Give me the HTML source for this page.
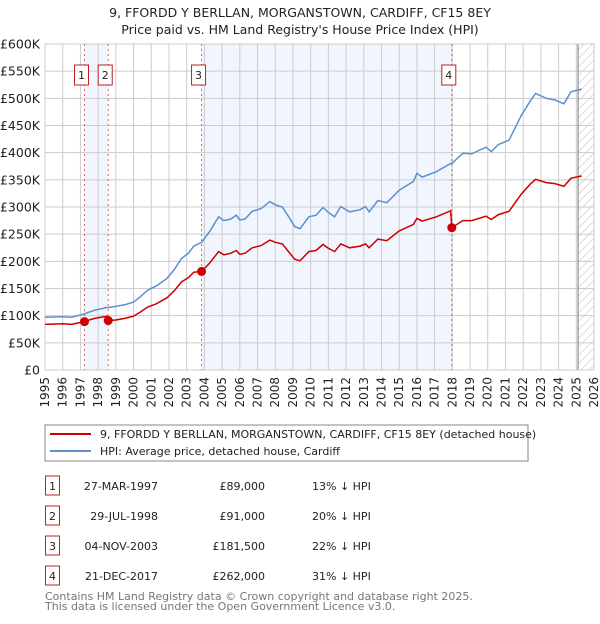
<!DOCTYPE html>
<html><head><meta charset="utf-8">
<style>
body{margin:0;background:#fff;font-family:"DejaVu Sans","Liberation Sans",sans-serif;}
svg text{font-family:"DejaVu Sans","Liberation Sans",sans-serif;}
</style></head>
<body>
<svg id="chart" width="600" height="620" viewBox="0 0 600 620" xmlns="http://www.w3.org/2000/svg">
<defs>
<pattern id="hatch" patternUnits="userSpaceOnUse" width="6" height="6" patternTransform="rotate(45)">
<line x1="0" y1="0" x2="0" y2="6" stroke="#bbb" stroke-width="1"/>
</pattern>
</defs>
<text x="300" y="17" text-anchor="middle" font-size="12.5" fill="#222">9, FFORDD Y BERLLAN, MORGANSTOWN, CARDIFF, CF15 8EY</text>
<text x="300" y="34" text-anchor="middle" font-size="12.5" fill="#222">Price paid vs. HM Land Registry's House Price Index (HPI)</text>
<g id="plot"></g>
<g>
<rect x="45" y="425" width="483" height="36" fill="#fff" stroke="#888"/>
<line x1="50" y1="434" x2="91" y2="434" stroke="#cc0000" stroke-width="2"/>
<text x="100" y="438" font-size="11" fill="#222">9, FFORDD Y BERLLAN, MORGANSTOWN, CARDIFF, CF15 8EY (detached house)</text>
<line x1="50" y1="451" x2="91" y2="451" stroke="#5b8fd0" stroke-width="2"/>
<text x="100" y="455" font-size="11" fill="#222">HPI: Average price, detached house, Cardiff</text>
</g>
<g id="table"></g>
<text x="45" y="600" font-size="11" fill="#777">Contains HM Land Registry data © Crown copyright and database right 2025.</text>
<text x="45" y="610" font-size="11" fill="#777">This data is licensed under the Open Government Licence v3.0.</text>
</svg>
<script>
const dates=[1995.0,1996.0,1996.5,1997.2,1997.8,1998.5,1998.57,1999.0,1999.5,2000.0,2000.4,2000.8,2001.3,2001.9,2002.3,2002.7,2003.1,2003.4,2003.85,2004.3,2004.8,2005.1,2005.5,2005.8,2006.0,2006.3,2006.7,2007.2,2007.7,2008.0,2008.4,2008.8,2009.1,2009.4,2009.9,2010.3,2010.7,2011.0,2011.35,2011.7,2012.2,2012.8,2013.1,2013.3,2013.8,2014.3,2015.0,2015.8,2016.0,2016.3,2017.1,2017.9,2017.97,2018.6,2019.1,2019.9,2020.2,2020.6,2021.2,2021.9,2022.4,2022.7,2023.3,2023.8,2024.3,2024.7,2025.3];
const hpiValues=[97,98,97,103,110,115,115,117,120,125,135,147,155,169,185,205,215,228,235,255,282,275,278,285,276,278,292,297,310,304,300,280,264,260,282,285,299,290,282,301,291,295,301,291,312,308,331,347,362,355,365,380,380,399,398,410,402,415,423,469,495,509,500,497,490,512,517];
const priceValues=[84,85,84,89,95,99,91,92,95,99,107,116,122,133,146,162,170,180,181.5,197,218,212,215,220,213,215,225,229,239,235,232,216,204,201,218,220,231,224,218,232,225,228,232,225,241,238,256,268,279,274,282,293,262,275,275,283,277,286,292,324,342,351,345,343,338,353,357];
const saleLabels=["1","2","3","4"];
const saleDates=[1997.23,1998.57,2003.84,2017.97];
const salePrices=[89,91,181.5,262];
const saleDateText=["27-MAR-1997","29-JUL-1998","04-NOV-2003","21-DEC-2017"];
const salePriceText=["£89,000","£91,000","£181,500","£262,000"];
const saleHpiText=["13% ↓ HPI","20% ↓ HPI","22% ↓ HPI","31% ↓ HPI"];
const yTicks=[0,50,100,150,200,250,300,350,400,450,500,550,600];
const yTickLabels=["£0","£50K","£100K","£150K","£200K","£250K","£300K","£350K","£400K","£450K","£500K","£550K","£600K"];
const xTicks=[1995,1996,1997,1998,1999,2000,2001,2002,2003,2004,2005,2006,2007,2008,2009,2010,2011,2012,2013,2014,2015,2016,2017,2018,2019,2020,2021,2022,2023,2024,2025,2026];

const NS="http://www.w3.org/2000/svg";
const X0=45,X1=594,Y0=370,Y1=44;
function xs(t){return X0+(t-1995)/(2026-1995)*(X1-X0);}
function ys(v){return Y0-(v/600)*(Y0-Y1);}
function mk(tag,attrs,parent){const e=document.createElementNS(NS,tag);for(const k in attrs)e.setAttribute(k,attrs[k]);parent.appendChild(e);return e;}
const plot=document.getElementById('plot');
let r;
r=mk('rect',{x:X0,y:Y1,width:X1-X0,height:Y0-Y1,fill:'#fff'},plot);


r=mk('rect',{x:xs(saleDates[0]),y:Y1,width:xs(saleDates[1])-xs(saleDates[0]),height:Y0-Y1,fill:'#eef3fd',opacity:0.8},plot);


r=mk('rect',{x:xs(saleDates[2]),y:Y1,width:xs(saleDates[3])-xs(saleDates[2]),height:Y0-Y1,fill:'#eef3fd',opacity:0.8},plot);


r=mk('rect',{x:xs(2025.1),y:Y1,width:X1-xs(2025.1),height:Y0-Y1,fill:'url(#hatch)'},plot);


xTicks.forEach((t,i)=>{
 const l=mk('line',{x1:xs(t),x2:xs(t),y1:Y1,y2:Y0,stroke:'#ccc','stroke-width':1},plot);
 
 
 const tx=mk('text',{x:0,y:0,'text-anchor':'end','font-size':12,fill:'#222',transform:`translate(${xs(t)+4},377) rotate(-90)`},plot);
 tx.textContent=String(t);
 
 
});
yTicks.forEach((v,i)=>{
 const l=mk('line',{x1:X0,x2:X1,y1:ys(v),y2:ys(v),stroke:'#ccc','stroke-width':1},plot);
 
 
 const tx=mk('text',{x:40,y:ys(v)+4.5,'text-anchor':'end','font-size':12.5,fill:'#222'},plot);
 tx.textContent=yTickLabels[i];
 
 
});
r=mk('line',{x1:xs(2025.1),x2:xs(2025.1),y1:Y1,y2:Y0,stroke:'#777','stroke-width':1},plot);


r=mk('rect',{x:X0,y:Y1,width:X1-X0,height:Y0-Y1,fill:'none',stroke:'#ccc'},plot);


saleDates.forEach((d,i)=>{
 const l=mk('line',{x1:xs(d),x2:xs(d),y1:Y1,y2:Y0,stroke:'#e06060','stroke-width':1,'stroke-dasharray':'2,3'},plot);
 
 
});
function path(vals){return vals.map((v,i)=>(i?'L':'M')+xs(dates[i]).toFixed(1)+','+ys(v).toFixed(1)).join('');}
r=mk('path',{d:path(hpiValues),fill:'none',stroke:'#5b8fd0','stroke-width':1.5},plot);


r=mk('path',{d:path(priceValues),fill:'none',stroke:'#cc0000','stroke-width':1.5},plot);


saleDates.forEach((d,i)=>{
 const c=mk('circle',{cx:xs(d),cy:ys(salePrices[i]),r:4.5,fill:'#cc0000'},plot);
 
 
 const b=mk('rect',{x:xs(d)-10,y:65,width:14,height:20,fill:'#fff',stroke:'#b22'},plot);
 
 
 const t=mk('text',{x:xs(d)-3,y:79,'text-anchor':'middle','font-size':11,fill:'#222'},plot);
 t.textContent=saleLabels[i];
 
 
});
const tbl=document.getElementById('table');
saleLabels.forEach((s,i)=>{
 const y=484+i*30;
 const b=mk('rect',{x:45.5,y:y-8,width:14,height:19,fill:'#fff',stroke:'#b22'},tbl);
 
 
 let t=mk('text',{x:52.5,y:y+6,'text-anchor':'middle','font-size':11,fill:'#222'},tbl);
 t.textContent=s;
 
 
 t=mk('text',{x:158,y:y+6,'text-anchor':'end','font-size':11,fill:'#222'},tbl);
 t.textContent=saleDateText[i];
 
 
 t=mk('text',{x:265,y:y+6,'text-anchor':'end','font-size':11,fill:'#222'},tbl);
 t.textContent=salePriceText[i];
 
 
 t=mk('text',{x:312,y:y+6,'font-size':11,fill:'#222'},tbl);
 t.textContent=saleHpiText[i];
 
 
});
</script>
</body></html>
